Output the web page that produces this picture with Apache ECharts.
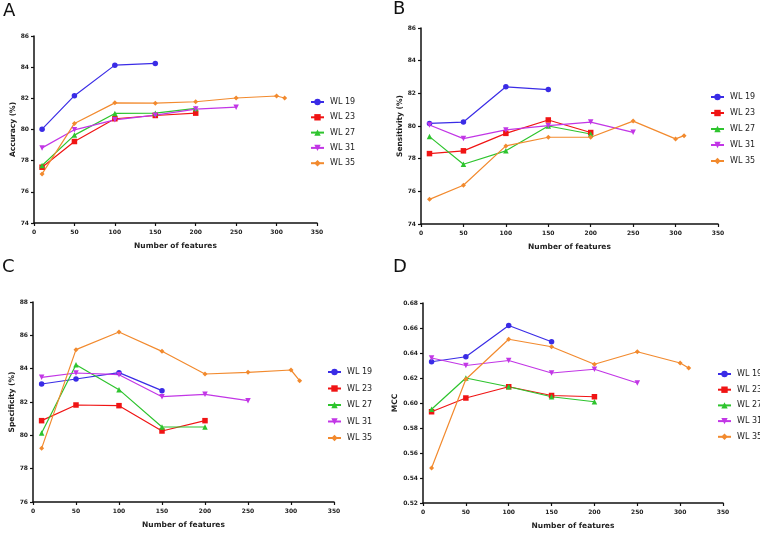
<!DOCTYPE html>
<html>
<head>
<meta charset="utf-8">
<script src="https://cdn.jsdelivr.net/npm/echarts@6/dist/echarts.min.js"></script>
<style>
  html, body { margin: 0; padding: 0; background: #fff; }
  #main { width: 760px; height: 533px; }
</style>
</head>
<body>
<div id="main"></div>
<script>
// number of features on the x axis
var xFeatures = [10, 50, 100, 150, 200, 250, 300, 310];
var seriesNames = ['WL 19', 'WL 23', 'WL 27', 'WL 31', 'WL 35'];
var xTicks = [0, 50, 100, 150, 200, 250, 300, 350];

// A: accuracy (%), one row per series
var accuracy = [
  [80.02, 82.17, 84.13, 84.24],
  [77.58, 79.23, 80.69, 80.90, 81.05],
  [77.69, 79.64, 81.03, 81.05, 81.35],
  [78.82, 79.98, 80.62, 80.92, 81.31, 81.43],
  [77.15, 80.39, 81.71, 81.69, 81.78, 82.02, 82.15, 82.02]
];
// B: sensitivity (%)
var sensitivity = [
  [80.16, 80.24, 82.40, 82.23],
  [78.31, 78.48, 79.55, 80.37, 79.60],
  [79.35, 77.66, 78.48, 80.00, 79.51],
  [80.06, 79.23, 79.76, 80.02, 80.24, 79.61],
  [75.51, 76.37, 78.78, 79.31, 79.31, 80.30, 79.21, 79.41]
];
// C: specificity (%)
var specificity = [
  [83.08, 83.38, 83.76, 82.68],
  [80.88, 81.82, 81.78, 80.26, 80.88],
  [80.14, 84.24, 82.74, 80.50, 80.50],
  [83.48, 83.74, 83.64, 82.32, 82.46, 82.08],
  [79.22, 85.14, 86.20, 85.04, 83.68, 83.78, 83.92, 83.28]
];
// D: MCC
var mcc = [
  [0.633, 0.637, 0.662, 0.649],
  [0.593, 0.604, 0.613, 0.606, 0.605],
  [0.595, 0.620, 0.613, 0.605, 0.601],
  [0.636, 0.630, 0.634, 0.624, 0.627, 0.616],
  [0.548, 0.619, 0.651, 0.645, 0.631, 0.641, 0.632, 0.628]
];

var colors = ['#3a2ce6', '#f01414', '#2ec42e', '#c236e6', '#f28a2e'];
var symbols = ['circle', 'rect', 'triangle', 'triangle', 'diamond'];
var symbolRotates = [0, 0, 0, 180, 0];
var symbolSizes = [5.5, 5.5, 5.5, 5.5, 5];

var chart = echarts.init(document.getElementById('main'));

var panels = [
  { letter: 'A', data: accuracy, yName: 'Accuracy (%)', min: 74, max: 86, step: 2, dec: 0,
    grid: { left: 34, top: 36, width: 283, height: 187 }, nameGap: 16,
    legend: { left: 305, top: 93, itemGap: 7.3 }, letterPos: [3, 2] },
  { letter: 'B', data: sensitivity, yName: 'Sensitivity (%)', min: 74, max: 86, step: 2, dec: 0,
    grid: { left: 421, top: 28, width: 297, height: 196 }, nameGap: 16,
    legend: { left: 705, top: 88, itemGap: 8 }, letterPos: [393, 0] },
  { letter: 'C', data: specificity, yName: 'Specificity (%)', min: 76, max: 88, step: 2, dec: 0,
    grid: { left: 33, top: 302, width: 301, height: 200 }, nameGap: 16,
    legend: { left: 322, top: 363, itemGap: 8.5 }, letterPos: [2, 258] },
  { letter: 'D', data: mcc, yName: 'MCC', min: 0.52, max: 0.68, step: 0.02, dec: 2,
    grid: { left: 423, top: 303, width: 300, height: 200 }, nameGap: 23,
    legend: { left: 712, top: 365, itemGap: 7.7 }, letterPos: [393, 258] }
];

var tickFont = { fontFamily: 'DejaVu Sans', fontWeight: 'bold', fontSize: 6, color: '#222' };
var axisLine = { lineStyle: { color: '#111', width: 1.5 } };
var axisTick = { inside: false, length: 3, lineStyle: { color: '#111', width: 1.2 } };

var grids = [], xAxes = [], yAxes = [], legends = [], series = [], graphics = [];

panels.forEach(function (p, i) {
  grids.push(p.grid);
  xAxes.push({
    gridIndex: i, type: 'value', min: 0, max: 350, interval: 50,
    name: 'Number of features', nameLocation: 'middle', nameGap: 19,
    nameTextStyle: { fontFamily: 'DejaVu Sans', fontWeight: 'bold', fontSize: 7.5, color: '#222' },
    axisLine: axisLine, axisTick: axisTick, splitLine: { show: false },
    axisLabel: Object.assign({ margin: 6 }, tickFont)
  });
  yAxes.push({
    gridIndex: i, type: 'value', min: p.min, max: p.max, interval: p.step,
    name: p.yName, nameLocation: 'middle', nameGap: p.nameGap,
    nameTextStyle: { fontFamily: 'DejaVu Sans', fontWeight: 'bold', fontSize: 7.5, color: '#222' },
    axisLine: { show: true, lineStyle: { color: '#111', width: 1.5 } },
    axisTick: { show: true, length: 3, lineStyle: { color: '#111', width: 1.2 } },
    splitLine: { show: false },
    axisLabel: Object.assign({ margin: 5, formatter: function (v) { return v.toFixed(p.dec); } }, tickFont)
  });
  legends.push({
    orient: 'vertical', left: p.legend.left, top: p.legend.top,
    itemWidth: 13, itemHeight: 8, itemGap: p.legend.itemGap,
    data: seriesNames,
    selectedMode: false,
    textStyle: { fontFamily: 'DejaVu Sans', fontSize: 8, color: '#222', padding: [0, 0, 0, 1] }
  });
  p.data.forEach(function (vals, s) {
    series.push({
      name: seriesNames[s], type: 'line', xAxisIndex: i, yAxisIndex: i,
      data: vals.map(function (v, k) { return [xFeatures[k], v]; }),
      symbol: symbols[s], symbolSize: symbolSizes[s], symbolRotate: symbolRotates[s],
      showAllSymbol: true, animation: false,
      itemStyle: { color: colors[s] },
      lineStyle: { color: colors[s], width: 1.2 }
    });
  });
  graphics.push({
    type: 'text', left: p.letterPos[0], top: p.letterPos[1],
    style: { text: p.letter, font: '18px "DejaVu Sans"', fill: '#111' }
  });
});

chart.setOption({
  animation: false,
  grid: grids,
  xAxis: xAxes,
  yAxis: yAxes,
  legend: legends,
  series: series,
  graphic: graphics
});
</script>
</body>
</html>
